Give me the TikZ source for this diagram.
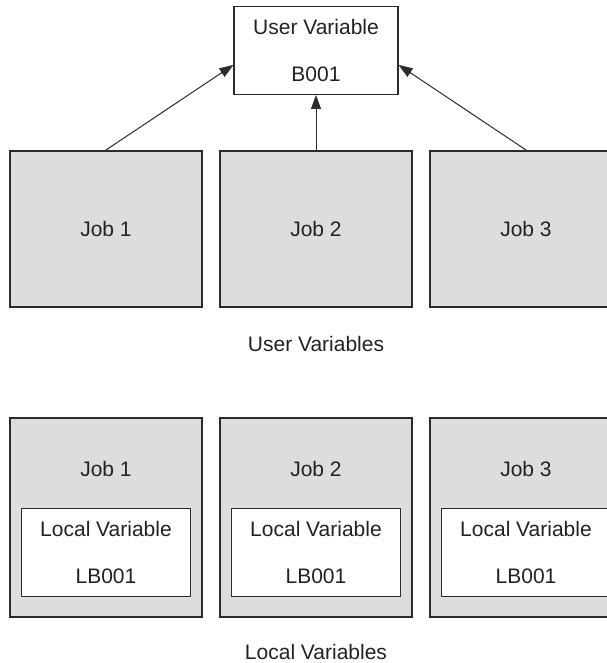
\documentclass[tikz,border=0pt]{standalone}
\usepackage{fontspec}
\setmainfont{Liberation Sans}
\usepackage{tikz}
\usetikzlibrary{shapes,arrows.meta,positioning,calc}
\usepackage{xcolor}
\definecolor{jobgray}{HTML}{DCDDDF}
\definecolor{linegray}{HTML}{2B2B2B}
\definecolor{textgray}{HTML}{222222}

\begin{document}
\begin{tikzpicture}[
    job/.style={rectangle, draw=linegray, line width=1pt, fill=jobgray, minimum width=96pt, minimum height=78pt, text=textgray, font=\fontsize{10.5pt}{12.6pt}\selectfont},
    localjob/.style={job, minimum height=99.5pt},
    varbox/.style={rectangle, draw=linegray, line width=0.6pt, fill=white, minimum height=44pt, align=center, text=textgray, font=\fontsize{10.5pt}{23.5pt}\selectfont},
    jobtitle/.style={text=textgray, font=\fontsize{10.5pt}{12.6pt}\selectfont},
    groupcap/.style={text=textgray, font=\fontsize{10.5pt}{12.6pt}\selectfont},
    arrow/.style={-{Triangle[length=7pt,width=5pt]}, draw=linegray, line width=0.5pt}
  ]
    \useasboundingbox (-158pt,-217pt) rectangle (145pt,114.5pt);

    \node[job] (job2) {Job 2};
    \node[job, left=8pt of job2] (job1) {Job 1};
    \node[job, right=8pt of job2] (job3) {Job 3};
    \node[varbox, minimum width=82pt, above=27.5pt of job2] (uvar) {User Variable\\B001};
    \node[groupcap] (ucap) at ($(job2.south)+(0,-17.75pt)$) {User Variables};

    \draw[arrow] (job1.north) -- ([yshift=-7.25pt]uvar.west);
    \draw[arrow] (job2.north) -- (uvar.south);
    \draw[arrow] (job3.north) -- ([yshift=-7.25pt]uvar.east);

    \node[localjob, below=54.5pt of job2] (ljob2) {};
    \node[localjob, left=8pt of ljob2] (ljob1) {};
    \node[localjob, right=8pt of ljob2] (ljob3) {};

    \node[jobtitle] (ltitle1) at ($(ljob1.north)+(0,-25.75pt)$) {Job 1};
    \node[jobtitle] (ltitle2) at ($(ljob2.north)+(0,-25.75pt)$) {Job 2};
    \node[jobtitle] (ltitle3) at ($(ljob3.north)+(0,-25.75pt)$) {Job 3};

    \node[varbox, minimum width=84.5pt, above=10.4pt of ljob1.south] (lvar1) {Local Variable\\LB001};
    \node[varbox, minimum width=84.5pt, above=10.4pt of ljob2.south] (lvar2) {Local Variable\\LB001};
    \node[varbox, minimum width=84.5pt, above=10.4pt of ljob3.south] (lvar3) {Local Variable\\LB001};

    \node[groupcap] (lcap) at ($(ljob2.south)+(0,-16.75pt)$) {Local Variables};
  \end{tikzpicture}
\end{document}
